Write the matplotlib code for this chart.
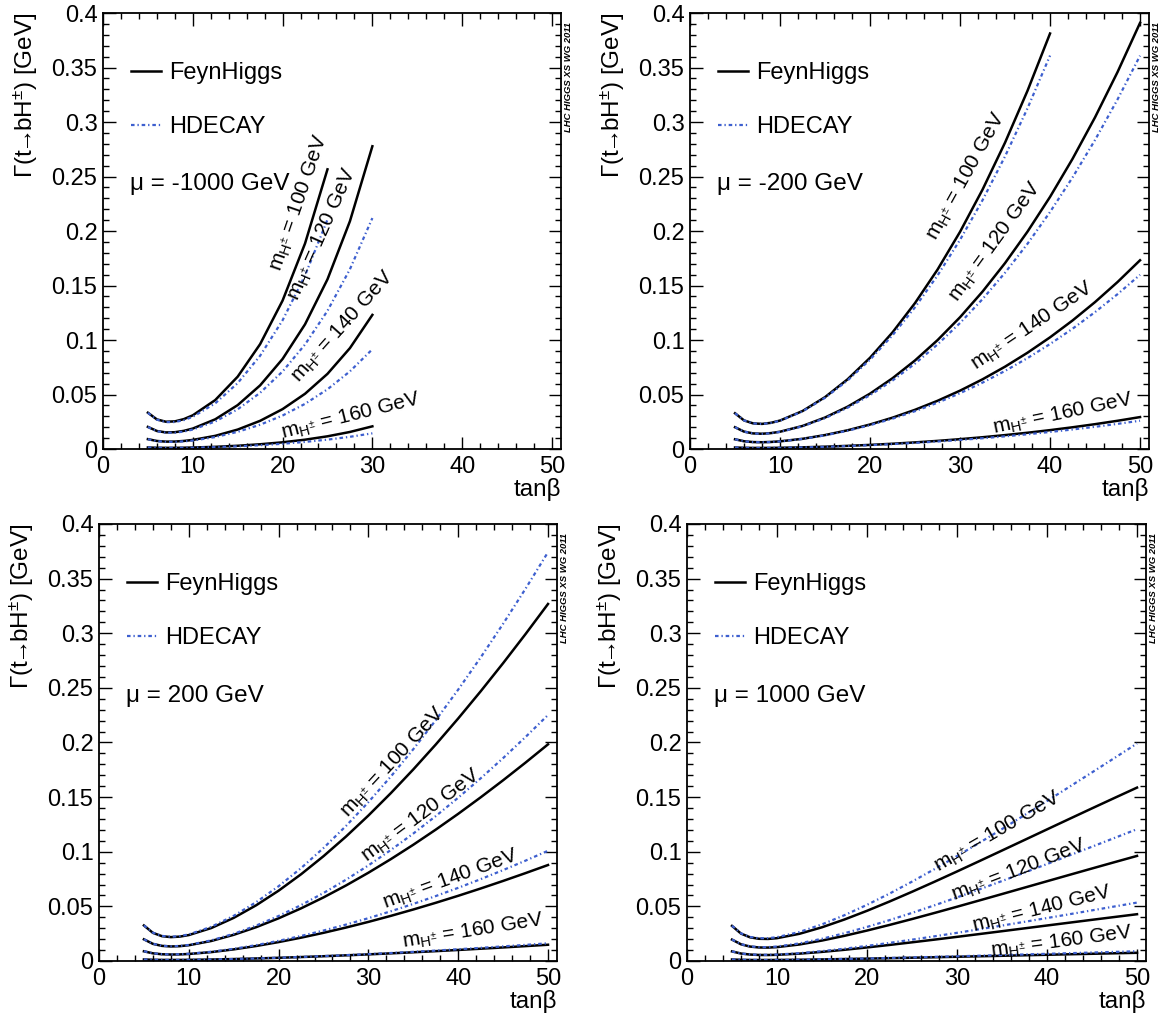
import matplotlib
matplotlib.use("Agg")
import matplotlib.pyplot as plt
from matplotlib.ticker import MultipleLocator, FuncFormatter

plt.rcParams['font.family'] = ['Liberation Sans', 'DejaVu Sans']
plt.rcParams['mathtext.fontset'] = 'custom'
plt.rcParams['mathtext.rm'] = 'Liberation Sans'
plt.rcParams['mathtext.it'] = 'Liberation Sans:italic'
plt.rcParams['mathtext.bf'] = 'Liberation Sans:bold'

tanb = [5, 6, 7, 8, 9, 10, 12.5, 15, 17.5, 20, 22.5, 25, 27.5, 30,
        32.5, 35, 37.5, 40, 42.5, 45, 47.5, 50]
masses = [100, 120, 140, 160]
mu_values = [-1000, -200, 200, 1000]

# Gamma(t -> b H+) [GeV], one list per charged Higgs mass (100, 120, 140, 160)
fh_mu_m1000 = [
    [0.03333, 0.02719, 0.02506, 0.02538, 0.02744, 0.03093, 0.04493, 0.06640, 0.09626, 0.13619, 0.18857, 0.25659],
    [0.02031, 0.01656, 0.01525, 0.01544, 0.01668, 0.01879, 0.02728, 0.04030, 0.05842, 0.08265, 0.11443, 0.15570, 0.20901, 0.27778],
    [0.00908, 0.00740, 0.00680, 0.00687, 0.00742, 0.00835, 0.01210, 0.01787, 0.02589, 0.03662, 0.05070, 0.06898, 0.09259, 0.12306],
    [0.00143, 0.00118, 0.00110, 0.00112, 0.00122, 0.00139, 0.00203, 0.00301, 0.00438, 0.00619, 0.00858, 0.01168, 0.01567, 0.02083],
]
hd_mu_m1000 = [
    [0.03321, 0.02696, 0.02468, 0.02477, 0.02652, 0.02958, 0.04192, 0.06049, 0.08561, 0.11811, 0.15922, 0.21049],
    [0.02022, 0.01639, 0.01498, 0.01500, 0.01604, 0.01787, 0.02529, 0.03647, 0.05159, 0.07117, 0.09593, 0.12681, 0.16498, 0.21189],
    [0.00900, 0.00727, 0.00661, 0.00659, 0.00702, 0.00779, 0.01097, 0.01579, 0.02231, 0.03076, 0.04145, 0.05480, 0.07127, 0.09154],
    [0.00141, 0.00113, 0.00103, 0.00103, 0.00110, 0.00122, 0.00172, 0.00248, 0.00351, 0.00484, 0.00653, 0.00863, 0.01122, 0.01441],
]

fh_mu_m200 = [
    [0.03281, 0.02627, 0.02355, 0.02307, 0.02406, 0.02614, 0.03487, 0.04762, 0.06394, 0.08373, 0.10703, 0.13395, 0.16463, 0.19926, 0.23802, 0.28112, 0.32876, 0.38122],
    [0.02000, 0.01600, 0.01434, 0.01403, 0.01463, 0.01589, 0.02117, 0.02891, 0.03881, 0.05082, 0.06495, 0.08129, 0.09991, 0.12092, 0.14443, 0.17058, 0.19950, 0.23132, 0.26622, 0.30433, 0.34584, 0.39094],
    [0.00894, 0.00715, 0.00639, 0.00625, 0.00651, 0.00706, 0.00939, 0.01282, 0.01720, 0.02252, 0.02878, 0.03601, 0.04426, 0.05356, 0.06398, 0.07557, 0.08838, 0.10248, 0.11794, 0.13482, 0.15321, 0.17319],
    [0.00141, 0.00113, 0.00103, 0.00102, 0.00107, 0.00117, 0.00157, 0.00216, 0.00291, 0.00381, 0.00487, 0.00610, 0.00749, 0.00906, 0.01083, 0.01279, 0.01496, 0.01735, 0.01997, 0.02282, 0.02593, 0.02932],
]
hd_mu_m200 = [
    [0.03281, 0.02626, 0.02353, 0.02303, 0.02398, 0.02601, 0.03455, 0.04700, 0.06285, 0.08197, 0.10436, 0.13009, 0.15924, 0.19193, 0.22831, 0.26851, 0.31267, 0.36098],
    [0.01998, 0.01596, 0.01429, 0.01395, 0.01451, 0.01572, 0.02085, 0.02834, 0.03788, 0.04940, 0.06288, 0.07838, 0.09594, 0.11563, 0.13754, 0.16175, 0.18837, 0.21746, 0.24915, 0.28353, 0.32073, 0.36086],
    [0.00893, 0.00713, 0.00637, 0.00621, 0.00646, 0.00699, 0.00925, 0.01257, 0.01679, 0.02189, 0.02786, 0.03473, 0.04250, 0.05122, 0.06093, 0.07166, 0.08345, 0.09634, 0.11038, 0.12561, 0.14209, 0.15986],
    [0.00140, 0.00112, 0.00101, 0.00099, 0.00103, 0.00112, 0.00149, 0.00203, 0.00273, 0.00355, 0.00453, 0.00564, 0.00691, 0.00832, 0.00990, 0.01164, 0.01356, 0.01566, 0.01794, 0.02041, 0.02309, 0.02598],
]

fh_mu_p200 = [
    [0.03251, 0.02575, 0.02273, 0.02184, 0.02231, 0.02374, 0.03016, 0.03948, 0.05100, 0.06436, 0.07939, 0.09593, 0.11387, 0.13315, 0.15366, 0.17535, 0.19814, 0.22199, 0.24682, 0.27260, 0.29926, 0.32677],
    [0.01982, 0.01568, 0.01384, 0.01329, 0.01357, 0.01443, 0.01832, 0.02397, 0.03095, 0.03907, 0.04818, 0.05821, 0.06910, 0.08080, 0.09325, 0.10640, 0.12024, 0.13470, 0.14978, 0.16541, 0.18159, 0.19828],
    [0.00886, 0.00701, 0.00617, 0.00592, 0.00604, 0.00642, 0.00813, 0.01063, 0.01372, 0.01731, 0.02135, 0.02579, 0.03061, 0.03579, 0.04131, 0.04714, 0.05327, 0.05967, 0.06635, 0.07328, 0.08045, 0.08784],
    [0.00140, 0.00111, 0.00099, 0.00096, 0.00099, 0.00106, 0.00136, 0.00178, 0.00232, 0.00292, 0.00361, 0.00436, 0.00518, 0.00605, 0.00699, 0.00797, 0.00901, 0.01010, 0.01123, 0.01240, 0.01362, 0.01487],
]
hd_mu_p200 = [
    [0.03261, 0.02591, 0.02297, 0.02218, 0.02277, 0.02436, 0.03130, 0.04135, 0.05383, 0.06844, 0.08501, 0.10341, 0.12356, 0.14540, 0.16885, 0.19387, 0.22040, 0.24840, 0.27782, 0.30863, 0.34077, 0.37420],
    [0.01985, 0.01575, 0.01394, 0.01344, 0.01378, 0.01471, 0.01887, 0.02490, 0.03241, 0.04120, 0.05116, 0.06223, 0.07436, 0.08749, 0.10160, 0.11665, 0.13262, 0.14947, 0.16717, 0.18570, 0.20504, 0.22515],
    [0.00889, 0.00706, 0.00624, 0.00602, 0.00617, 0.00660, 0.00845, 0.01116, 0.01452, 0.01846, 0.02292, 0.02788, 0.03331, 0.03919, 0.04552, 0.05226, 0.05942, 0.06696, 0.07489, 0.08320, 0.09186, 0.10087],
    [0.00139, 0.00110, 0.00098, 0.00095, 0.00098, 0.00105, 0.00135, 0.00179, 0.00233, 0.00296, 0.00368, 0.00448, 0.00535, 0.00630, 0.00731, 0.00839, 0.00955, 0.01076, 0.01204, 0.01337, 0.01476, 0.01621],
]

fh_mu_p1000 = [
    [0.03211, 0.02508, 0.02169, 0.02032, 0.02018, 0.02089, 0.02490, 0.03086, 0.03800, 0.04594, 0.05443, 0.06334, 0.07253, 0.08193, 0.09148, 0.10111, 0.11077, 0.12045, 0.13010, 0.13971, 0.14924, 0.15870],
    [0.01957, 0.01527, 0.01320, 0.01236, 0.01227, 0.01269, 0.01511, 0.01872, 0.02304, 0.02786, 0.03300, 0.03839, 0.04397, 0.04966, 0.05545, 0.06128, 0.06714, 0.07300, 0.07885, 0.08467, 0.09045, 0.09618],
    [0.00876, 0.00683, 0.00590, 0.00552, 0.00548, 0.00566, 0.00673, 0.00834, 0.01026, 0.01240, 0.01469, 0.01709, 0.01956, 0.02210, 0.02467, 0.02727, 0.02988, 0.03249, 0.03509, 0.03769, 0.04026, 0.04281],
    [0.00139, 0.00109, 0.00096, 0.00091, 0.00091, 0.00095, 0.00115, 0.00144, 0.00179, 0.00216, 0.00257, 0.00299, 0.00343, 0.00387, 0.00432, 0.00477, 0.00523, 0.00569, 0.00615, 0.00660, 0.00705, 0.00750],
]
hd_mu_p1000 = [
    [0.03225, 0.02530, 0.02203, 0.02082, 0.02088, 0.02181, 0.02657, 0.03353, 0.04194, 0.05140, 0.06168, 0.07263, 0.08409, 0.09599, 0.10824, 0.12077, 0.13351, 0.14643, 0.15950, 0.17262, 0.18582, 0.19904],
    [0.01965, 0.01541, 0.01341, 0.01266, 0.01269, 0.01325, 0.01612, 0.02033, 0.02542, 0.03117, 0.03739, 0.04402, 0.05097, 0.05818, 0.06560, 0.07319, 0.08092, 0.08875, 0.09666, 0.10461, 0.11262, 0.12063],
    [0.00879, 0.00689, 0.00598, 0.00564, 0.00565, 0.00589, 0.00715, 0.00902, 0.01127, 0.01381, 0.01657, 0.01951, 0.02258, 0.02577, 0.02906, 0.03243, 0.03585, 0.03932, 0.04282, 0.04635, 0.04990, 0.05345],
    [0.00138, 0.00109, 0.00095, 0.00091, 0.00092, 0.00096, 0.00118, 0.00149, 0.00188, 0.00230, 0.00276, 0.00326, 0.00377, 0.00430, 0.00485, 0.00541, 0.00599, 0.00657, 0.00715, 0.00774, 0.00833, 0.00892],
]

# where the mass labels sit along the curves: (tanb, Gamma, angle)
labels_m1000 = [(21.8, 0.2256, 71), (24.4, 0.1965, 66), (26.7, 0.1123, 48), (27.6, 0.0297, 14)]
labels_m200 = [(30.7, 0.250, 61), (33.9, 0.190, 54), (38.0, 0.1123, 34), (41.4, 0.0321, 11.7)]
labels_p200 = [(32.7, 0.1818, 47), (35.9, 0.1329, 36.6), (39.1, 0.0743, 20), (41.6, 0.0269, 9)]
labels_p1000 = [(34.5, 0.1176, 30), (36.9, 0.0825, 21), (39.4, 0.0474, 14), (41.6, 0.0177, 7.5)]

fh_sets = [fh_mu_m1000, fh_mu_m200, fh_mu_p200, fh_mu_p1000]
hd_sets = [hd_mu_m1000, hd_mu_m200, hd_mu_p200, hd_mu_p1000]
label_sets = [labels_m1000, labels_m200, labels_p200, labels_p1000]

rects = [[0.0884, 0.5589, 0.3931, 0.4283],
         [0.5923, 0.5589, 0.3940, 0.4283],
         [0.0850, 0.0560, 0.3931, 0.4293],
         [0.5897, 0.0560, 0.3940, 0.4293]]

blue = '#3d5fcf'
hd_style = (0, (1.6, 1.3, 0.6, 1.3))
fs = 17

fig = plt.figure(figsize=(11.65, 10.18), dpi=100)

for rect, mu, fh, hd, labs in zip(rects, mu_values, fh_sets, hd_sets, label_sets):
    ax = fig.add_axes(rect)

    for y in fh:
        lfh, = ax.plot(tanb[:len(y)], y, color='black', lw=1.8)
    for y in hd:
        lhd, = ax.plot(tanb[:len(y)], y, color=blue, lw=1.6, ls=hd_style)

    for m, (x, y, ang) in zip(masses, labs):
        ax.text(x, y, r'$\mathregular{m_{H^{\pm}}}$ = %d GeV' % m, fontsize=15,
                rotation=ang, rotation_mode='anchor', ha='center', va='center')

    ax.legend([lfh, lhd], ['FeynHiggs', 'HDECAY'], loc='upper left',
              bbox_to_anchor=(0.062, 0.888), frameon=False, fontsize=fs,
              handlelength=1.25, handletextpad=0.35, labelspacing=1.38,
              borderpad=0, borderaxespad=0)

    ax.text(0.058, 0.607, 'μ = %d GeV' % mu, transform=ax.transAxes,
            fontsize=fs + 0.5, ha='left', va='center')

    ax.text(1.016, 0.98, 'LHC HIGGS XS WG 2011', transform=ax.transAxes,
            rotation=90, ha='center', va='top', fontsize=6.8,
            fontweight='bold', fontstyle='italic')

    ax.set_xlim(0, 51)
    ax.set_ylim(0, 0.4)
    ax.xaxis.set_major_locator(MultipleLocator(10))
    ax.xaxis.set_minor_locator(MultipleLocator(2))
    ax.yaxis.set_major_locator(MultipleLocator(0.05))
    ax.yaxis.set_minor_locator(MultipleLocator(0.01))
    ax.yaxis.set_major_formatter(FuncFormatter(lambda v, p: '%g' % round(v, 3)))
    ax.tick_params(which='both', direction='in', top=True, right=True,
                   labelsize=fs, width=1.0)
    ax.tick_params(which='major', length=9)
    ax.tick_params(which='minor', length=4.5)
    ax.tick_params(axis='x', pad=5)
    ax.tick_params(axis='y', pad=4)
    for s in ax.spines.values():
        s.set_linewidth(1.3)

    ax.set_xlabel('tanβ', loc='right', fontsize=fs + 0.5, labelpad=0)
    ax.set_ylabel('Γ(t$\\!\\!\\rightarrow\\!\\!$bH$^{\\pm}$) [GeV]', loc='top',
                  fontsize=fs + 0.5, labelpad=8)

fig.savefig('out.png', dpi=100)
